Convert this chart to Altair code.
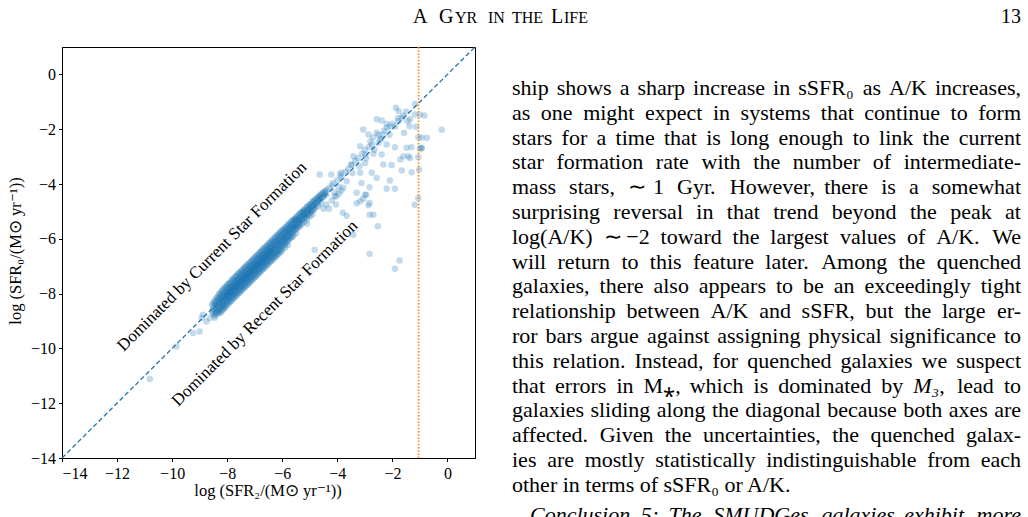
import altair as alt
import pandas as pd

# ------------------------------------------------------------------ data
# dense band of galaxies: each row = [log SFR2, log SFR0 values ...]
BAND_ROWS = [
    [-8.55, -8.42, -8.66],
    [-8.50, -8.33, -8.55, -8.74],
    [-8.45, -8.27, -8.44, -8.61, -8.80],
    [-8.40, -8.18, -8.36, -8.53, -8.69],
    [-8.35, -8.12, -8.27, -8.43, -8.58, -8.73],
    [-8.30, -8.02, -8.21, -8.36, -8.50, -8.66],
    [-8.25, -7.99, -8.14, -8.29, -8.41, -8.57, -8.71],
    [-8.20, -7.90, -8.07, -8.23, -8.36, -8.49, -8.63],
    [-8.15, -7.86, -8.03, -8.17, -8.31, -8.44, -8.58],
    [-8.10, -7.79, -7.97, -8.11, -8.24, -8.39, -8.53],
    [-8.05, -7.76, -7.93, -8.07, -8.19, -8.32, -8.47, -8.12],
    [-8.00, -7.69, -7.85, -7.99, -8.13, -8.27, -8.41, -8.05],
    [-7.95, -7.63, -7.81, -7.94, -8.07, -8.21, -8.36, -8.01],
    [-7.90, -7.60, -7.75, -7.89, -8.02, -8.16, -8.30, -7.96],
    [-7.85, -7.53, -7.70, -7.84, -7.97, -8.11, -8.26, -7.90],
    [-7.80, -7.48, -7.66, -7.79, -7.92, -8.06, -8.20, -7.85],
    [-7.75, -7.44, -7.59, -7.73, -7.87, -8.01, -8.16, -7.80],
    [-7.70, -7.38, -7.55, -7.69, -7.82, -7.96, -8.10, -7.75],
    [-7.65, -7.34, -7.50, -7.63, -7.77, -7.91, -8.06, -7.70],
    [-7.60, -7.27, -7.45, -7.59, -7.72, -7.86, -8.00, -7.64],
    [-7.55, -7.24, -7.40, -7.53, -7.67, -7.81, -7.96, -7.60],
    [-7.50, -7.18, -7.34, -7.48, -7.62, -7.76, -7.90, -7.55],
    [-7.45, -7.13, -7.30, -7.43, -7.57, -7.71, -7.86, -7.50],
    [-7.40, -7.08, -7.25, -7.39, -7.52, -7.66, -7.80, -7.45],
    [-7.35, -7.03, -7.19, -7.33, -7.47, -7.61, -7.76, -7.40],
    [-7.30, -6.98, -7.15, -7.29, -7.42, -7.56, -7.70, -7.35],
    [-7.25, -6.94, -7.09, -7.23, -7.37, -7.51, -7.66, -7.30],
    [-7.20, -6.88, -7.05, -7.19, -7.32, -7.46, -7.61, -7.25],
    [-7.15, -6.84, -7.00, -7.13, -7.27, -7.41, -7.56, -7.20],
    [-7.10, -6.78, -6.95, -7.09, -7.22, -7.36, -7.50, -7.15],
    [-7.05, -6.74, -6.90, -7.03, -7.17, -7.31, -7.46, -7.10],
    [-7.00, -6.68, -6.85, -6.99, -7.12, -7.26, -7.40, -7.05],
    [-6.95, -6.64, -6.80, -6.93, -7.07, -7.21, -7.36, -7.00],
    [-6.90, -6.58, -6.75, -6.89, -7.02, -7.16, -7.30, -6.95],
    [-6.85, -6.54, -6.70, -6.84, -6.97, -7.11, -7.26, -6.90],
    [-6.80, -6.48, -6.65, -6.79, -6.92, -7.06, -7.20, -6.85],
    [-6.75, -6.44, -6.60, -6.73, -6.87, -7.01, -7.16, -6.80],
    [-6.70, -6.38, -6.55, -6.69, -6.82, -6.96, -7.10, -6.75],
    [-6.65, -6.34, -6.50, -6.64, -6.77, -6.91, -7.06, -6.70],
    [-6.60, -6.28, -6.45, -6.59, -6.72, -6.86, -7.00, -6.65],
    [-6.55, -6.24, -6.40, -6.53, -6.67, -6.81, -6.96, -6.60],
    [-6.50, -6.18, -6.35, -6.49, -6.62, -6.76, -6.90, -6.55],
    [-6.45, -6.14, -6.30, -6.43, -6.57, -6.71, -6.86, -6.50],
    [-6.40, -6.08, -6.25, -6.39, -6.52, -6.66, -6.80, -6.45],
    [-6.35, -6.04, -6.20, -6.33, -6.47, -6.61, -6.76],
    [-6.30, -5.98, -6.15, -6.29, -6.42, -6.56, -6.70],
    [-6.25, -5.94, -6.10, -6.23, -6.37, -6.51, -6.66],
    [-6.20, -5.88, -6.05, -6.19, -6.32, -6.46, -6.60],
    [-6.15, -5.84, -6.00, -6.13, -6.27, -6.41, -6.56],
    [-6.10, -5.78, -5.95, -6.09, -6.22, -6.36, -6.50],
    [-6.05, -5.74, -5.90, -6.03, -6.17, -6.31, -6.46],
    [-6.00, -5.68, -5.85, -5.99, -6.12, -6.26, -6.40],
    [-5.95, -5.66, -5.80, -5.94, -6.07, -6.21],
    [-5.90, -5.60, -5.75, -5.89, -6.02, -6.16, -6.32],
    [-5.85, -5.56, -5.70, -5.84, -5.98, -6.12],
    [-5.80, -5.50, -5.65, -5.79, -5.92, -6.06, -6.22],
    [-5.75, -5.46, -5.60, -5.74, -5.88, -6.02],
    [-5.70, -5.40, -5.56, -5.69, -5.82, -5.97],
    [-5.65, -5.36, -5.50, -5.64, -5.78, -5.93],
    [-5.60, -5.31, -5.46, -5.59, -5.73, -5.88],
    [-5.55, -5.28, -5.42, -5.55, -5.68],
    [-5.50, -5.22, -5.36, -5.50, -5.64, -5.80],
    [-5.45, -5.18, -5.32, -5.46, -5.60],
    [-5.40, -5.12, -5.27, -5.41, -5.55],
    [-5.35, -5.08, -5.22, -5.36, -5.52],
    [-5.30, -5.03, -5.18, -5.31, -5.46],
    [-5.25, -5.00, -5.14, -5.28],
    [-5.20, -4.93, -5.08, -5.22, -5.38],
    [-5.15, -4.90, -5.04, -5.18],
    [-5.10, -4.83, -4.98, -5.13, -5.27],
    [-5.05, -4.80, -4.95, -5.08],
    [-5.00, -4.74, -4.90, -5.04, -5.18],
    [-4.95, -4.72, -4.86, -5.00],
    [-4.90, -4.65, -4.80, -4.96],
    [-4.85, -4.62, -4.76, -4.92],
    [-4.80, -4.56, -4.70, -4.86],
    [-4.75, -4.54, -4.68],
    [-4.70, -4.47, -4.62, -4.80],
    [-4.65, -4.44, -4.58],
    [-4.60, -4.38, -4.52],
    [-4.55, -4.36, -4.50],
    [-4.50, -4.30, -4.46],
    [-4.45, -4.28],
    [-4.40, -4.22, -4.38],
]

# scattered galaxies (log SFR2, log SFR0)
SPARSE_PTS = [
    (-10.81, -11.12), (-9.84, -9.93), (-9.24, -9.44), (-9.00, -9.38),
    (-8.93, -8.89), (-8.88, -8.77), (-8.75, -9.02), (-8.63, -8.89), (-8.45, -8.88),
    (-1.87, -1.22), (-1.18, -1.08), (-1.77, -1.34), (-1.18, -1.46), (-1.00, -1.46),
    (-0.84, -1.50), (-0.21, -2.02), (-2.57, -1.64), (-2.39, -1.68), (-3.06, -2.01),
    (-2.21, -1.80), (-2.09, -1.89), (-1.79, -1.71), (-1.66, -1.58), (-1.36, -1.64),
    (-1.38, -1.89), (-1.14, -1.91), (-2.87, -2.19), (-2.57, -2.13), (-2.33, -2.19),
    (-2.45, -2.37), (-1.58, -2.13), (-1.06, -2.29), (-0.75, -2.31), (-3.17, -2.62),
    (-2.75, -2.56), (-2.51, -2.50), (-2.21, -2.56), (-1.91, -2.66), (-1.49, -2.68),
    (-1.31, -2.66), (-1.00, -2.70), (-3.42, -2.99), (-2.99, -2.92), (-2.69, -2.90),
    (-2.39, -2.92), (-1.60, -2.99), (-1.42, -2.99), (-3.48, -3.29), (-2.99, -3.23),
    (-2.33, -3.29), (-2.03, -3.31), (-1.71, -3.11), (-1.36, -3.05), (-1.06, -3.02),
    (-3.90, -3.65), (-3.17, -3.59), (-2.75, -3.59), (-1.66, -3.51), (-1.30, -3.57),
    (-1.03, -3.47), (-2.57, -3.78), (-2.09, -3.87), (-4.15, -3.96), (-3.66, -3.90),
    (-3.12, -3.96), (-2.83, -4.12), (-2.21, -4.17), (-1.91, -4.17), (-3.79, -4.14),
    (-3.30, -4.32), (-2.99, -4.39), (-4.03, -4.45), (-3.17, -4.63), (-3.06, -4.54),
    (-1.06, -4.51), (-4.64, -3.65), (-4.22, -3.65), (-3.86, -3.59), (-3.80, -5.05),
    (-2.95, -4.39), (-2.83, -4.69), (-2.83, -5.12), (-2.53, -5.54), (-4.82, -6.40),
    (-2.83, -6.55), (-1.74, -6.79), (-1.91, -7.09), (-5.25, -5.00), (-5.55, -5.30),
    (-3.30, -4.70), (-2.87, -4.78), (-1.19, -4.76), (-3.66, -5.16), (-2.69, -5.12),
    (-3.42, -5.85), (-0.93, -2.68), (-0.94, -2.31), (-0.95, -2.70),
    (-4.30, -4.15), (-4.20, -4.05), (-4.10, -4.30), (-4.00, -3.85), (-3.95, -4.10),
    (-3.85, -3.75), (-3.70, -3.55), (-3.60, -3.45), (-3.50, -3.30), (-3.45, -3.60),
    (-3.35, -3.15), (-3.25, -3.05), (-3.20, -3.35), (-3.10, -2.90), (-3.00, -2.75),
    (-2.95, -3.05), (-2.85, -2.65), (-2.80, -2.45), (-2.70, -2.30), (-2.65, -2.75),
    (-2.50, -2.20), (-2.40, -2.35), (-2.30, -2.05), (-2.20, -1.95), (-2.10, -2.20),
    (-2.00, -1.80), (-1.90, -1.90), (-1.80, -1.60), (-1.60, -1.50), (-1.50, -1.35),
    (-1.45, -1.70), (-4.50, -4.90), (-4.40, -4.75), (-4.20, -4.60), (-4.10, -4.45),
    (-3.95, -4.35), (-3.85, -4.25), (-4.30, -4.90), (-4.05, -4.75), (-4.60, -4.70),
    (-4.90, -5.10), (-5.10, -5.45),
]

DIAG = [-14, 1]
AK_LIMIT = -1.05
TICKS = [-14, -12, -10, -8, -6, -4, -2, 0]

ANNOT_TEXT = ["Dominated by Current Star Formation", "Dominated by Recent Star Formation"]
ANNOT_X = [-8.55, -6.63]
ANNOT_Y = [-6.65, -8.72]

X_TITLE = "log (SFR\u2082/(M\u2299 yr\u207b\u00b9))"
Y_TITLE = "log (SFR\u2080/(M\u2299 yr\u207b\u00b9))"

HEADER_PIECES = ["A", "G", "YR", "IN", "THE", "L", "IFE"]
HEADER_BIG = [True, True, False, False, False, True, False]
HEADER_LEFT = [413, 439, 455, 488, 512, 551, 564]
PAGE_NO = "13"

PARA_LINES = [
    "ship shows a sharp increase in sSFR\u2080 as A/K increases,",
    "as one might expect in systems that continue to form",
    "stars for a time that is long enough to link the current",
    "star formation rate with the number of intermediate-",
    "mass stars, \u223c 1 Gyr. However, there is a somewhat",
    "surprising reversal in that trend beyond the peak at",
    "log(A/K) \u223c \u22122 toward the largest values of A/K. We",
    "will return to this feature later. Among the quenched",
    "galaxies, there also appears to be an exceedingly tight",
    "relationship between A/K and sSFR, but the large er-",
    "ror bars argue against assigning physical significance to",
    "this relation. Instead, for quenched galaxies we suspect",
    "that errors in M\u204e, which is dominated by *M\u2083, lead to",
    "galaxies sliding along the diagonal because both axes are",
    "affected. Given the uncertainties, the quenched galax-",
    "ies are mostly statistically indistinguishable from each",
]
PARA_LAST = "other in terms of sSFR\u2080 or A/K."
CONCLUSION = "*Conclusion *5: *The *SMUDGes *galaxies *exhibit *more"

# ------------------------------------------------------------------ layout helpers
W, H = 413, 411
PAD_L, PAD_T = 62, 47
FONT = "Liberation Serif"


def px2x(px):
    return -14 + (px - PAD_L) / W * 15


def py2y(py):
    return 1 - (py - PAD_T) / H * 15


TIMES = {
    " ": 250, ",": 250, ".": 250, "-": 333, "/": 278, "(": 333, ")": 333, ":": 278,
    "A": 722, "C": 667, "G": 722, "I": 333, "K": 722, "M": 889, "R": 667, "S": 556,
    "F": 556, "T": 611, "U": 722, "D": 722, "W": 944, "E": 611, "L": 611,
    "a": 444, "b": 500, "c": 444, "d": 500, "e": 444, "f": 333, "g": 500, "h": 500,
    "i": 278, "j": 278, "k": 500, "l": 278, "m": 778, "n": 500, "o": 500, "p": 500,
    "q": 500, "r": 333, "s": 389, "t": 278, "u": 500, "v": 500, "w": 722, "x": 500,
    "y": 500, "z": 444, "\u223c": 541, "\u2212": 564, "\u2080": 400, "\u2083": 400,
    "\u204e": 500,
}


def tw(s, fs):
    return sum(TIMES.get(c, 500) for c in s) * fs / 1000


FS = 22
COL_L, COL_R = 512, 1021
BASE0, LINE_H = 95, 24.8

word_rows = []


def justify(words, left, right, base):
    widths = [tw(w.lstrip("*"), FS) for w in words]
    gap = (right - left - sum(widths)) / (len(words) - 1)
    xpos = left
    for k, (w, wd) in enumerate(zip(words, widths)):
        last = k == len(words) - 1
        word_rows.append(dict(
            x=px2x(right if last else xpos), y=py2y(base), text=w.lstrip("*"),
            fs=FS, italic=w.startswith("*"), right=last))
        xpos += wd + gap


for i, line in enumerate(PARA_LINES):
    justify(line.split(), COL_L, COL_R, BASE0 + LINE_H * i)

word_rows.append(dict(x=px2x(COL_L), y=py2y(BASE0 + LINE_H * len(PARA_LINES)),
                      text=PARA_LAST, fs=FS, italic=False, right=False))
justify(CONCLUSION.split(), 530, COL_R, 522)

for piece, big, left in zip(HEADER_PIECES, HEADER_BIG, HEADER_LEFT):
    word_rows.append(dict(x=px2x(left), y=py2y(23), text=piece,
                          fs=20 if big else 16, italic=False, right=False))
word_rows.append(dict(x=px2x(COL_R), y=py2y(23), text=PAGE_NO, fs=20,
                      italic=False, right=True))

words_df = pd.DataFrame(word_rows)

band_x, band_y = [], []
for row in BAND_ROWS:
    for v in row[1:]:
        band_x.append(row[0])
        band_y.append(v)
band = pd.DataFrame({"x": band_x, "y": band_y})
sparse = pd.DataFrame({"x": [p[0] for p in SPARSE_PTS], "y": [p[1] for p in SPARSE_PTS]})

# ------------------------------------------------------------------ encodings
X_ENC = alt.X("x:Q", scale=alt.Scale(domain=[-14, 1], nice=False, zero=False),
              axis=alt.Axis(values=TICKS, title=None, grid=False, labelPadding=4))
Y_ENC = alt.Y("y:Q", scale=alt.Scale(domain=[-14, 1], nice=False, zero=False),
              axis=alt.Axis(values=TICKS, title=None, grid=False, labelPadding=3))

band_pts = alt.Chart(band).mark_circle(size=42, opacity=0.33, color="#1f77b4").encode(
    x=X_ENC, y=Y_ENC)
sparse_pts = alt.Chart(sparse).mark_circle(size=42, opacity=0.27, color="#1f77b4").encode(
    x=X_ENC, y=Y_ENC)

diag = alt.Chart(pd.DataFrame({"x": DIAG, "y": DIAG})).mark_line(
    color="#1f77b4", strokeWidth=1.3, strokeDash=[4.7, 2.7]).encode(x=X_ENC, y=Y_ENC)

ak = alt.Chart(pd.DataFrame({"x": [AK_LIMIT]})).mark_rule(
    color="#ff7f0e", strokeWidth=1.6, strokeDash=[1.5, 1.7]).encode(x=X_ENC)

annot = alt.Chart(pd.DataFrame({"x": ANNOT_X, "y": ANNOT_Y, "t": ANNOT_TEXT})).mark_text(
    angle=315, align="center", baseline="middle", fontSize=17, font=FONT, color="black"
).encode(x=X_ENC, y=Y_ENC, text="t:N")

titles = alt.Chart(pd.DataFrame({
    "x": [px2x(268), px2x(16)], "y": [py2y(491), py2y(251)],
    "t": [X_TITLE, Y_TITLE], "a": [0, 270]})).mark_text(
    align="center", baseline="middle", fontSize=16.5, font=FONT, color="black"
).encode(x=X_ENC, y=Y_ENC, text="t:N", angle=alt.Angle("a:Q", scale=None))


def text_layer(italic, right):
    sub = words_df[(words_df.italic == italic) & (words_df.right == right)]
    return alt.Chart(sub).mark_text(
        align="right" if right else "left", baseline="alphabetic", font=FONT,
        fontStyle="italic" if italic else "normal", color="black"
    ).encode(x=X_ENC, y=Y_ENC, text="text:N", size=alt.Size("fs:Q", scale=None))


chart = alt.layer(
    band_pts, sparse_pts, diag, ak, annot, titles,
    text_layer(False, False), text_layer(False, True),
    text_layer(True, False), text_layer(True, True),
).properties(
    width=W, height=H,
    padding={"left": PAD_L, "top": PAD_T, "right": 1028 - PAD_L - W, "bottom": 517 - PAD_T - H},
    autosize=alt.AutoSizeParams(type="none"),
    background="white",
).configure_view(
    stroke="black", strokeWidth=1
).configure_axis(
    domainColor="black", tickColor="black", tickSize=3.5, labelColor="black",
    labelFont=FONT, labelFontSize=16, domainWidth=1, tickWidth=1,
)

chart.save("out.html", embed_options={"renderer": "svg", "actions": False})
